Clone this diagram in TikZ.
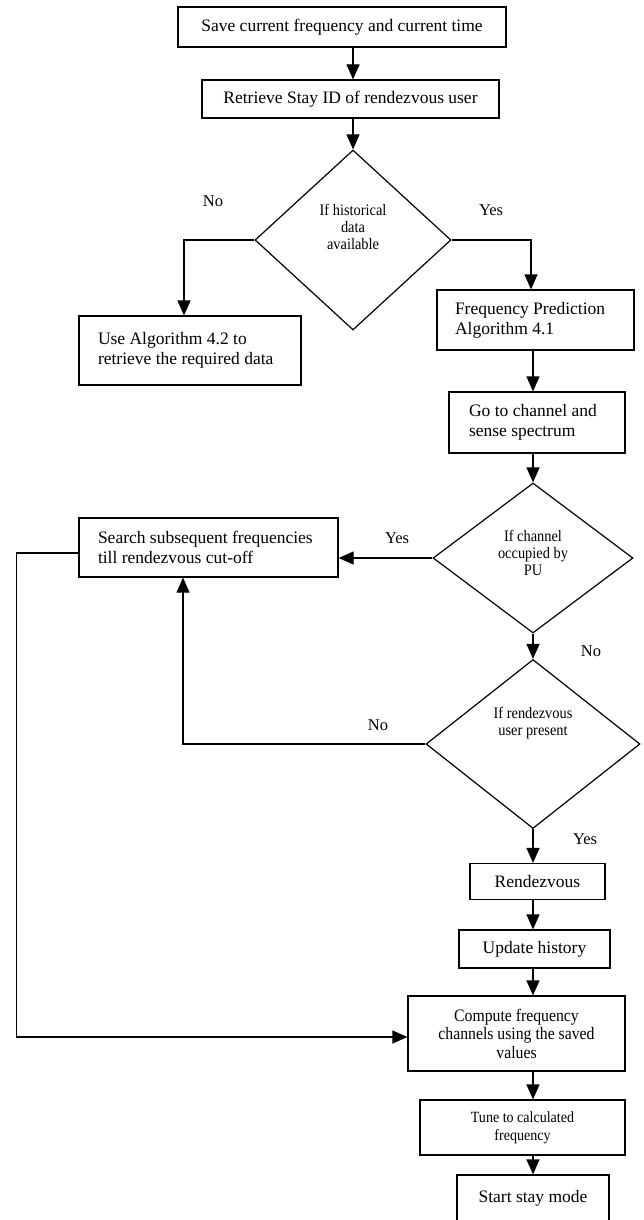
\documentclass[tikz,border=0pt]{standalone}
\usepackage{fontspec}
\setmainfont{Liberation Serif}
\newfontfamily\condfont{Liberation Serif}[FakeStretch=0.9]
\usetikzlibrary{shapes.geometric,arrows.meta}
\begin{document}
\begin{tikzpicture}[x=1pt,y=-1pt,
  box/.style={draw, line width=1.2pt, inner sep=0pt, font=\fontsize{17.5}{20}\selectfont},
  lbox/.style={box, align=flush left},
  dia/.style={draw, diamond, line width=1.2pt, inner sep=0pt},
  dtext/.style={inner sep=0pt, align=center, font=\condfont\fontsize{16}{17}\selectfont},
  arr/.style={line width=1.2pt, -{Triangle[width=13pt,length=15pt]}},
  lab/.style={inner sep=0pt, font=\fontsize{16.5}{19}\selectfont}]
\useasboundingbox (0,0) rectangle (644,1220);
\clip (0,0) rectangle (644,1220);

% boxes
\node[box, minimum width=328pt, minimum height=40pt] (save) at (342,27) {Save current frequency and current time};
\node[box, minimum width=297pt, minimum height=38pt] (retr) at (350.5,99) {Retrieve Stay ID of rendezvous user};
\node[lbox, minimum width=222pt, minimum height=69pt, text width=184pt] (use) at (190,350.5) {Use Algorithm 4.2 to\\retrieve the required data};
\node[lbox, minimum width=197pt, minimum height=60pt, text width=161pt] (freq) at (535.5,320) {Frequency Prediction\\Algorithm 4.1};
\node[lbox, minimum width=176pt, minimum height=61pt, text width=136pt] (go) at (537,422.5) {Go to channel and\\sense spectrum};
\node[lbox, minimum width=259pt, minimum height=59pt, text width=221pt] (search) at (208.5,547.5) {Search subsequent frequencies\\till rendezvous cut-off};
\node[box, minimum width=135pt, minimum height=36pt] (rdv) at (537.5,881.5) {Rendezvous};
\node[box, minimum width=151pt, minimum height=38pt] (upd) at (534.5,949) {Update history};
\node[box, minimum width=217pt, minimum height=75pt, align=center, font=\condfont\fontsize{17.5}{18.5}\selectfont] (comp) at (516.5,1033.5) {Compute frequency\\channels using the saved\\values};
\node[box, minimum width=205pt, minimum height=55pt, align=center, font=\condfont\fontsize{15.6}{18}\selectfont] (tune) at (522.5,1127.5) {Tune to calculated\\frequency};
\node[box, minimum width=152pt, minimum height=47pt] (start) at (533,1198.5) {Start stay mode};

% decisions
\node[dia, minimum width=196pt, minimum height=180pt] (d1) at (353,240) {};
\node[dtext] (d1t) at (353,227) {If historical\\data\\available};
\node[dia, minimum width=200pt, minimum height=150pt] (d2) at (533,558) {};
\node[dtext] (d2t) at (533,553) {If channel\\occupied by\\PU};
\node[dia, minimum width=214pt, minimum height=169pt] (d3) at (533,744) {};
\node[dtext] (d3t) at (533,723.5) {If rendezvous\\user present};

% labels
\node[lab] (l1) at (213,201) {No};
\node[lab] (l2) at (491,210) {Yes};
\node[lab] (l3) at (397,538) {Yes};
\node[lab] (l4) at (591,651) {No};
\node[lab] (l5) at (378,725) {No};
\node[lab] (l6) at (585,839) {Yes};

% connectors
\draw[arr] (save.south -| d1.north) -- (retr.north -| d1.north);
\draw[arr] (retr.south -| d1.north) -- (d1.north);
\draw[arr] (d1.west) -| ([xshift=-6pt]use.north);
\draw[arr] (d1.east) -| ([xshift=-4.5pt]freq.north);
\draw[arr] (freq.south -| d2.north) -- (go.north -| d2.north);
\draw[arr] (go.south -| d2.north) -- (d2.north);
\draw[arr] (d2.west) -- (d2.west -| search.east);
\draw[arr] (d2.south) -- (d3.north);
\draw[arr] (d3.west) -| ([xshift=-25.5pt]search.south);
\draw[arr] ([yshift=-5.5pt]search.west) -- ++(-62,0) |- ([yshift=-3.5pt]comp.west);
\draw[arr] (d3.south) -- (d3.south |- rdv.north);
\draw[arr] (rdv.south -| d3.south) -- (upd.north -| d3.south);
\draw[arr] (upd.south -| d3.south) -- (comp.north -| d3.south);
\draw[arr] (comp.south -| d3.south) -- (tune.north -| d3.south);
\draw[arr] (tune.south -| d3.south) -- (start.north -| d3.south);
\end{tikzpicture}
\end{document}
